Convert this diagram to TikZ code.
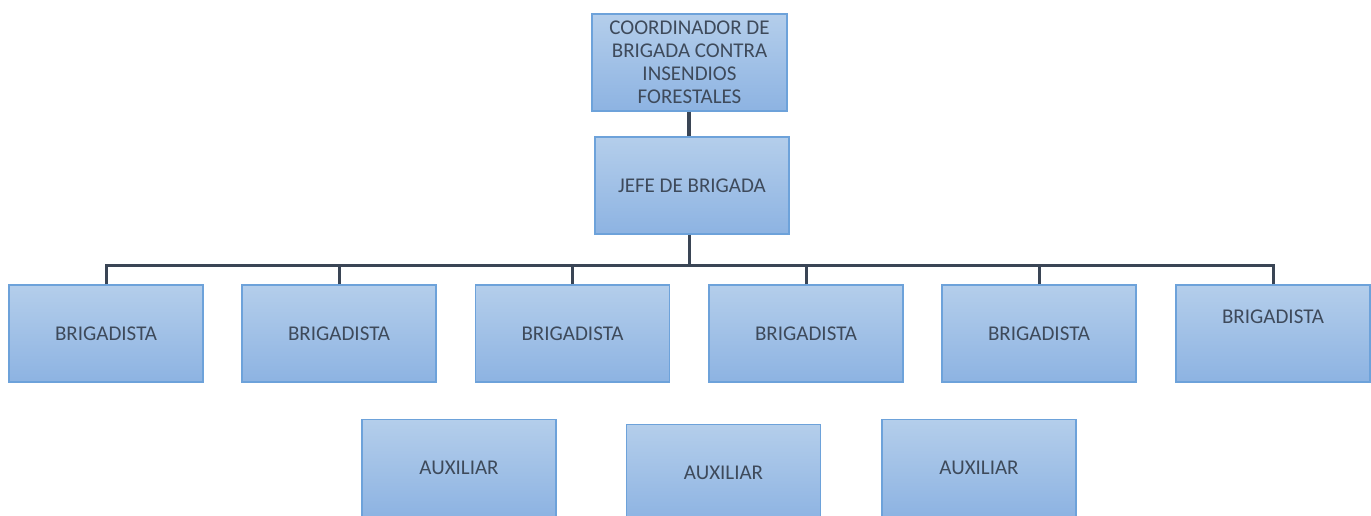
\documentclass[tikz,border=0pt]{standalone}
\usepackage{fontspec}
\setmainfont{Carlito}
\usepackage{tikz}

\definecolor{boxtop}{HTML}{B4CEEB}
\definecolor{boxbottom}{HTML}{8DB3E2}
\definecolor{boxline}{HTML}{6DA2DA}
\definecolor{boxtext}{HTML}{3E4A5B}
\definecolor{wire}{HTML}{3A4555}

\begin{document}
\begin{tikzpicture}[x=1pt, y=-1pt,
        cargo/.style={rectangle, draw=boxline, line width=1.2pt,
        top color=boxtop, bottom color=boxbottom, text=boxtext,
        minimum width=194pt, minimum height=97pt, inner sep=0pt,
        font=\fontsize{21}{23}\selectfont, align=center},
        wire/.style={draw=wire, line width=3pt}]
        \clip (0, 0) rectangle (1371, 515);
        \useasboundingbox (0, 0) rectangle (1371, 515);
        \node[cargo, minimum width=195pt] (coord) at (689.5, 62.5)
        {COORDINADOR DE\\BRIGADA CONTRA\\INSENDIOS\\FORESTALES};
        \node[cargo] (jefe) at (692, 185.5) {JEFE DE BRIGADA};
        \node[cargo] (b1) at (106, 333.5) {BRIGADISTA};
        \node[cargo] (b2) at (339, 333.5) {BRIGADISTA};
        \node[cargo] (b3) at (572.5, 333.5) {BRIGADISTA};
        \node[cargo] (b4) at (806, 333.5) {BRIGADISTA};
        \node[cargo] (b5) at (1039, 333.5) {BRIGADISTA};
        \node[cargo, text depth=34pt] (b6) at (1273, 333.5) {BRIGADISTA};
        \node[cargo] (a1) at (459, 468) {AUXILIAR};
        \node[cargo] (a2) at (723.5, 473) {AUXILIAR};
        \node[cargo] (a3) at (979, 468) {AUXILIAR};
        % lineas de mando
        \draw[wire, line width=4pt] (coord.south -| 689, 0) -- (jefe.north -| 689, 0);
        \coordinate (bus) at (689, 265);
        \draw[wire] (jefe.south -| bus) -- (bus);
        \foreach \b in {b1, b2, b3, b4, b5, b6}
        \draw[wire] (\b.north) |- (bus);
\end{tikzpicture}
\end{document}
